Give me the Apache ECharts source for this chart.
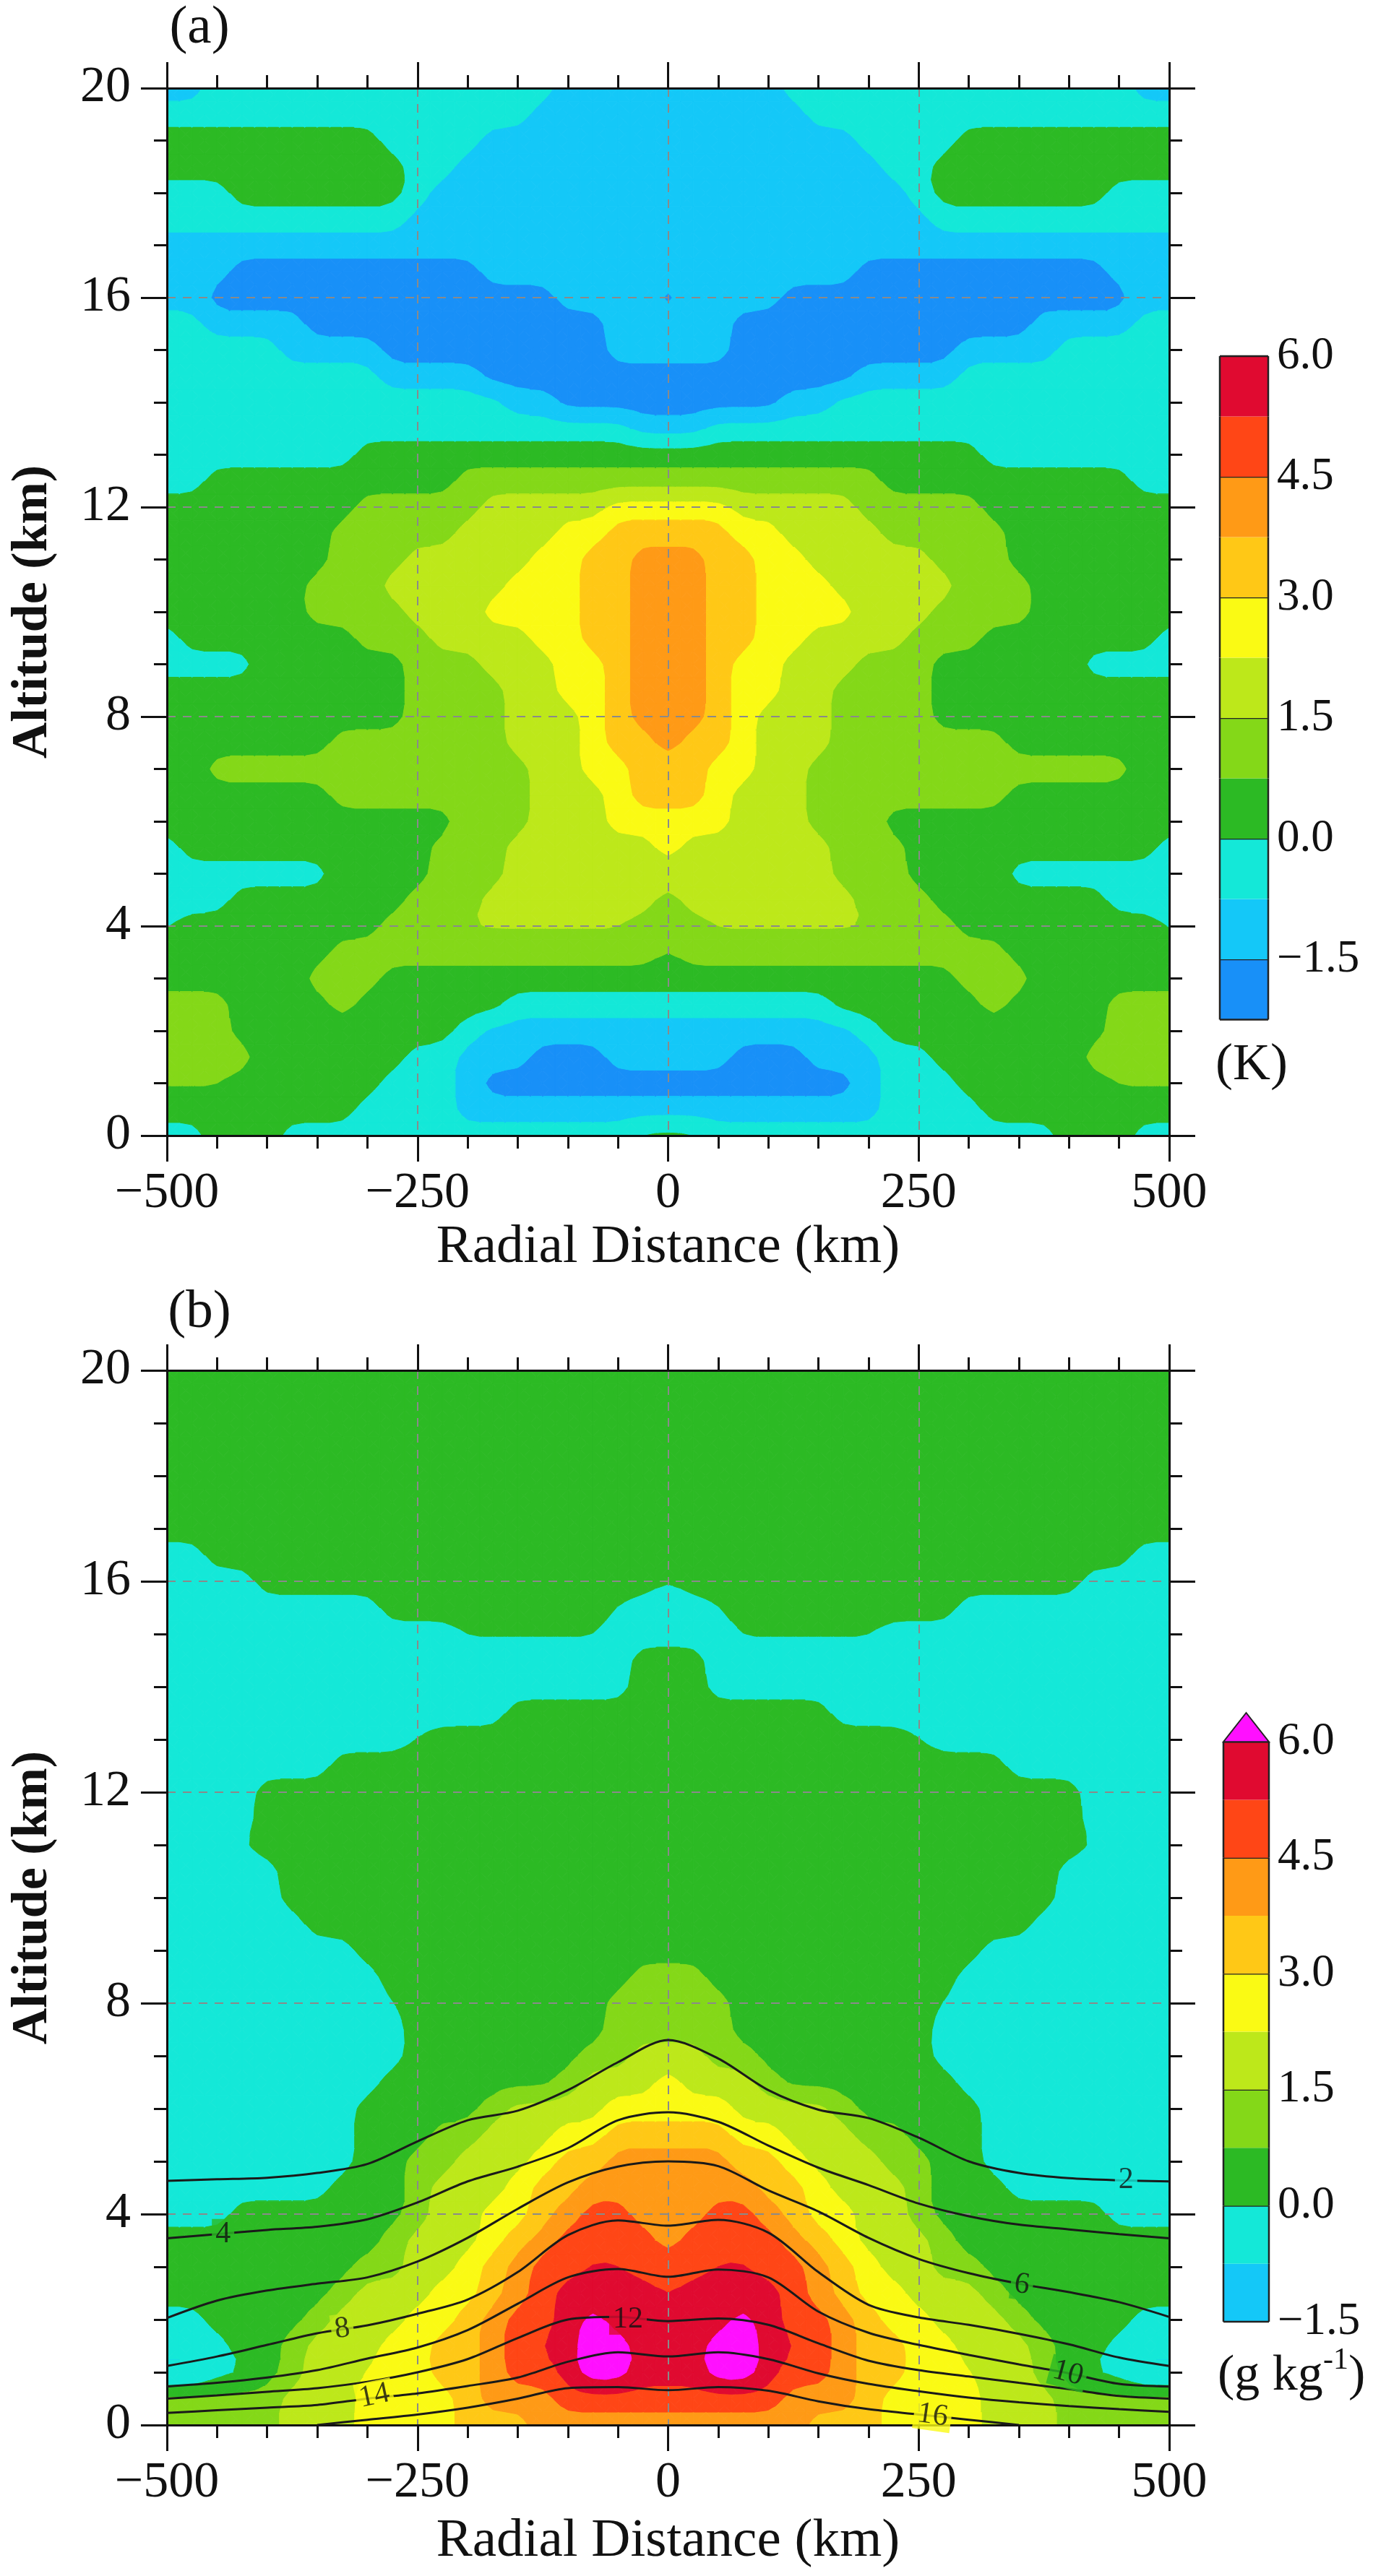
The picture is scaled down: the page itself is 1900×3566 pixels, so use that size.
<!DOCTYPE html>
<html>
<head>
<meta charset="utf-8">
<title>Radial-height cross sections</title>
<script src="https://cdn.jsdelivr.net/npm/echarts@6/dist/echarts.min.js"></script>
<style>
  html, body { margin: 0; padding: 0; background: #fff; }
  #chart { width: 1900px; height: 3566px; }
</style>
</head>
<body>
<div id="chart"></div>
<script>
// Both panels are mirror-symmetric about r = 0, so each field is stored for r >= 0 only.
const radialHalf = [0, 25, 50, 75, 100, 125, 150, 175, 200, 225, 250, 275, 300, 325, 350, 375, 400, 425, 450, 475, 500]
// row order of the two fields below (top of the plot first)
const altitudes = [20, 19.5, 19, 18.5, 18, 17.5, 17, 16.5, 16, 15.5, 15, 14.5, 14, 13.5, 13, 12.5, 12, 11.5, 11, 10.5,
  10, 9.5, 9, 8.5, 8, 7.5, 7, 6.5, 6, 5.5, 5, 4.5, 4, 3.5, 3, 2.5, 2, 1.5, 1, 0.5, 0]

// (a) temperature anomaly (K)
const tempAnom = [
  [-1.1,-1.1,-1.1,-1.1,-1.1,-0.4,-0.4,-0.4,-0.4,-0.4,-0.4,-0.4,-0.4,-0.4,-0.4,-0.4,-0.4,-0.4,-0.4,-1.1,-1.1],
  [-1.1,-1.1,-1.1,-1.1,-1.1,-1.1,-0.4,-0.4,-0.4,-0.4,-0.4,-0.4,-0.4,-0.4,-0.4,-0.4,-0.4,-0.4,-0.4,-0.4,-0.4],
  [-1.1,-1.1,-1.1,-1.1,-1.1,-1.1,-1.1,-1.1,-0.4,-0.4,-0.4,-0.4,0.4,0.4,0.4,0.4,0.4,0.4,0.4,0.4,0.4],
  [-1.1,-1.1,-1.1,-1.1,-1.1,-1.1,-1.1,-1.1,-1.1,-0.4,-0.4,0.4,0.4,0.4,0.4,0.4,0.4,0.4,0.4,0.4,0.4],
  [-1.1,-1.1,-1.1,-1.1,-1.1,-1.1,-1.1,-1.1,-1.1,-1.1,-0.4,0.4,0.4,0.4,0.4,0.4,0.4,0.4,-0.4,-0.4,-0.4],
  [-1.1,-1.1,-1.1,-1.1,-1.1,-1.1,-1.1,-1.1,-1.1,-1.1,-1.1,-0.4,-0.4,-0.4,-0.4,-0.4,-0.4,-0.4,-0.4,-0.4,-0.4],
  [-1.1,-1.1,-1.1,-1.1,-1.1,-1.1,-1.1,-1.1,-1.1,-1.1,-1.1,-1.1,-1.1,-1.1,-1.1,-1.1,-1.1,-1.1,-1.1,-1.1,-1.1],
  [-1.1,-1.1,-1.1,-1.1,-1.1,-1.1,-1.1,-1.1,-1.9,-1.9,-1.9,-1.9,-1.9,-1.9,-1.9,-1.9,-1.9,-1.9,-1.1,-1.1,-1.1],
  [-1.9,-1.1,-1.1,-1.1,-1.1,-1.9,-1.9,-1.9,-1.9,-1.9,-1.9,-1.9,-1.9,-1.9,-1.9,-1.9,-1.9,-1.9,-1.9,-1.1,-1.1],
  [-1.1,-1.1,-1.1,-1.9,-1.9,-1.9,-1.9,-1.9,-1.9,-1.9,-1.9,-1.9,-1.9,-1.9,-1.9,-1.1,-1.1,-1.1,-1.1,-0.4,-0.4],
  [-1.1,-1.1,-1.1,-1.9,-1.9,-1.9,-1.9,-1.9,-1.9,-1.9,-1.9,-1.9,-1.1,-1.1,-1.1,-1.1,-0.4,-0.4,-0.4,-0.4,-0.4],
  [-1.9,-1.9,-1.9,-1.9,-1.9,-1.9,-1.9,-1.9,-1.1,-1.1,-1.1,-1.1,-0.4,-0.4,-0.4,-0.4,-0.4,-0.4,-0.4,-0.4,-0.4],
  [-1.9,-1.9,-1.9,-1.9,-1.9,-1.1,-1.1,-0.4,-0.4,-0.4,-0.4,-0.4,-0.4,-0.4,-0.4,-0.4,-0.4,-0.4,-0.4,-0.4,-0.4],
  [-1.1,-1.1,-0.4,-0.4,-0.4,-0.4,-0.4,-0.4,-0.4,-0.4,-0.4,-0.4,-0.4,-0.4,-0.4,-0.4,-0.4,-0.4,-0.4,-0.4,-0.4],
  [0.4,0.4,0.4,0.4,0.4,0.4,0.4,0.4,0.4,0.4,0.4,0.4,0.4,-0.4,-0.4,-0.4,-0.4,-0.4,-0.4,-0.4,-0.4],
  [1.1,1.1,1.1,1.1,1.1,1.1,1.1,1.1,1.1,0.4,0.4,0.4,0.4,0.4,0.4,0.4,0.4,0.4,0.4,-0.4,-0.4],
  [2.6,2.6,2.6,1.9,1.9,1.9,1.9,1.9,1.1,1.1,1.1,1.1,1.1,0.4,0.4,0.4,0.4,0.4,0.4,0.4,0.4],
  [3.4,3.4,3.4,2.6,2.6,1.9,1.9,1.9,1.9,1.1,1.1,1.1,1.1,1.1,0.4,0.4,0.4,0.4,0.4,0.4,0.4],
  [4.1,4.1,3.4,3.4,2.6,2.6,1.9,1.9,1.9,1.9,1.9,1.1,1.1,1.1,0.4,0.4,0.4,0.4,0.4,0.4,0.4],
  [4.1,4.1,3.4,3.4,2.6,2.6,2.6,1.9,1.9,1.9,1.9,1.9,1.1,1.1,1.1,0.4,0.4,0.4,0.4,0.4,0.4],
  [4.1,4.1,3.4,3.4,2.6,2.6,2.6,2.6,1.9,1.9,1.9,1.1,1.1,1.1,1.1,0.4,0.4,0.4,0.4,0.4,0.4],
  [4.1,4.1,3.4,3.4,2.6,2.6,1.9,1.9,1.9,1.9,1.1,1.1,1.1,0.4,0.4,0.4,0.4,0.4,0.4,0.4,-0.4],
  [4.6,4.1,3.4,2.6,2.6,1.9,1.9,1.9,1.1,1.1,1.1,0.4,0.4,0.4,0.4,0.4,0.4,-0.4,-0.4,-0.4,-0.4],
  [4.1,4.1,3.4,2.6,2.6,1.9,1.9,1.1,1.1,1.1,1.1,0.4,0.4,0.4,0.4,0.4,0.4,0.4,0.4,0.4,0.4],
  [4.1,4.1,3.4,2.6,1.9,1.9,1.9,1.1,1.1,1.1,1.1,0.4,0.4,0.4,0.4,0.4,0.4,0.4,0.4,0.4,0.4],
  [4.1,3.4,3.4,2.6,1.9,1.9,1.9,1.1,1.1,1.1,1.1,1.1,1.1,1.1,0.4,0.4,0.4,0.4,0.4,0.4,0.4],
  [3.4,3.4,2.6,2.6,1.9,1.9,1.1,1.1,1.1,1.1,1.1,1.1,1.1,1.1,1.1,1.1,1.1,1.1,1.1,0.4,0.4],
  [3.4,3.4,2.6,1.9,1.9,1.9,1.1,1.1,1.1,1.1,1.1,1.1,1.1,1.1,0.4,0.4,0.4,0.4,0.4,0.4,0.4],
  [2.6,2.6,2.6,1.9,1.9,1.9,1.1,1.1,1.1,0.4,0.4,0.4,0.4,0.4,0.4,0.4,0.4,0.4,0.4,0.4,0.4],
  [2.6,1.9,1.9,1.9,1.9,1.9,1.9,1.1,1.1,1.1,0.4,0.4,0.4,0.4,0.4,0.4,0.4,0.4,0.4,0.4,-0.4],
  [1.9,1.9,1.9,1.9,1.9,1.9,1.9,1.1,1.1,1.1,0.4,0.4,0.4,0.4,-0.4,-0.4,-0.4,-0.4,-0.4,-0.4,-0.4],
  [1.1,1.9,1.9,1.9,1.9,1.9,1.9,1.9,1.1,1.1,1.1,0.4,0.4,0.4,0.4,0.4,0.4,0.4,-0.4,-0.4,-0.4],
  [1.1,1.1,1.55,1.55,1.55,1.55,1.55,1.55,1.55,1.55,1.1,1.1,0.4,0.4,0.4,0.4,0.4,0.4,0.4,0.4,-0.1],
  [0.65,1.1,1.1,1.1,1.1,1.1,1.1,1.1,1.1,1.1,1.1,1.1,1.1,1.1,0.4,0.4,0.4,0.4,0.4,0.4,0.4],
  [0.4,0.4,0.4,0.4,0.4,0.4,0.4,0.4,0.4,0.4,0.4,0.4,1.1,1.1,1.1,0.4,0.4,0.4,0.4,0.4,0.4],
  [-0.4,-0.4,-0.4,-0.4,-0.4,-0.4,-0.4,0.4,0.4,0.4,0.4,0.4,0.4,1.1,0.4,0.4,0.4,0.4,1.1,1.1,1.1],
  [-1.1,-1.1,-1.1,-1.1,-1.1,-1.1,-1.1,-1.1,-0.4,0.4,0.4,0.4,0.4,0.4,0.4,0.4,0.4,0.4,1.1,1.1,1.1],
  [-1.1,-1.1,-1.1,-1.9,-1.9,-1.9,-1.1,-1.1,-1.1,-0.4,-0.4,0.4,0.4,0.4,0.4,0.4,0.4,1.1,1.1,1.1,1.1],
  [-1.9,-1.9,-1.9,-1.9,-1.9,-1.9,-1.9,-1.9,-1.1,-0.4,-0.4,-0.4,0.4,0.4,0.4,0.4,0.4,0.4,0.8,0.8,0.8],
  [-1.1,-1.1,-1.1,-1.1,-1.1,-1.1,-1.1,-1.1,-1.1,-0.4,-0.4,-0.4,-0.4,0.4,0.4,0.4,0.4,0.4,0.4,0.4,0.4],
  [0.3,0.2,-0.4,-0.4,-0.4,-0.4,-0.4,-0.4,-0.4,-0.4,-0.4,-0.4,-0.4,-0.4,-0.4,-0.4,0.4,0.4,0.4,-0.4,-0.4]
]

// (b) moisture anomaly (g/kg)
const qvAnom = [
  [0.4,0.4,0.4,0.4,0.4,0.4,0.4,0.4,0.4,0.4,0.4,0.4,0.4,0.4,0.4,0.4,0.4,0.4,0.4,0.4,0.4],
  [0.4,0.4,0.4,0.4,0.4,0.4,0.4,0.4,0.4,0.4,0.4,0.4,0.4,0.4,0.4,0.4,0.4,0.4,0.4,0.4,0.4],
  [0.4,0.4,0.4,0.4,0.4,0.4,0.4,0.4,0.4,0.4,0.4,0.4,0.4,0.4,0.4,0.4,0.4,0.4,0.4,0.4,0.4],
  [0.4,0.4,0.4,0.4,0.4,0.4,0.4,0.4,0.4,0.4,0.4,0.4,0.4,0.4,0.4,0.4,0.4,0.4,0.4,0.4,0.4],
  [0.4,0.4,0.4,0.4,0.4,0.4,0.4,0.4,0.4,0.4,0.4,0.4,0.4,0.4,0.4,0.4,0.4,0.4,0.4,0.4,0.4],
  [0.4,0.4,0.4,0.4,0.4,0.4,0.4,0.4,0.4,0.4,0.4,0.4,0.4,0.4,0.4,0.4,0.4,0.4,0.4,0.4,0.4],
  [0.4,0.4,0.4,0.4,0.4,0.4,0.4,0.4,0.4,0.4,0.4,0.4,0.4,0.4,0.4,0.4,0.4,0.4,0.4,0.4,0.4],
  [0.4,0.4,0.4,0.4,0.4,0.4,0.4,0.4,0.4,0.4,0.4,0.4,0.4,0.4,0.4,0.4,0.4,0.4,0.4,-0.4,-0.4],
  [-0.05,0.4,0.4,0.4,0.4,0.4,0.4,0.4,0.4,0.4,0.4,0.4,0.4,0.4,0.4,0.4,0.4,-0.4,-0.4,-0.4,-0.4],
  [-0.4,-0.4,-0.05,0.4,0.4,0.4,0.4,0.4,0.4,0.4,0.4,0.4,-0.4,-0.4,-0.4,-0.4,-0.4,-0.4,-0.4,-0.4,-0.4],
  [-0.4,-0.4,-0.4,0.05,0.05,0.05,0.05,0.05,0.05,-0.4,-0.4,-0.4,-0.4,-0.4,-0.4,-0.4,-0.4,-0.4,-0.4,-0.4,-0.4],
  [0.4,0.4,-0.4,-0.4,-0.4,-0.4,-0.4,-0.4,-0.4,-0.4,-0.4,-0.4,-0.4,-0.4,-0.4,-0.4,-0.4,-0.4,-0.4,-0.4,-0.4],
  [0.4,0.4,-0.4,-0.4,-0.4,-0.4,-0.4,-0.4,-0.4,-0.4,-0.4,-0.4,-0.4,-0.4,-0.4,-0.4,-0.4,-0.4,-0.4,-0.4,-0.4],
  [0.4,0.4,0.4,0.4,0.4,0.4,0.4,-0.4,-0.4,-0.4,-0.4,-0.4,-0.4,-0.4,-0.4,-0.4,-0.4,-0.4,-0.4,-0.4,-0.4],
  [0.4,0.4,0.4,0.4,0.4,0.4,0.4,0.4,0.4,0.4,0.05,-0.4,-0.4,-0.4,-0.4,-0.4,-0.4,-0.4,-0.4,-0.4,-0.4],
  [0.4,0.4,0.4,0.4,0.4,0.4,0.4,0.4,0.4,0.4,0.4,0.4,0.4,0.4,-0.4,-0.4,-0.4,-0.4,-0.4,-0.4,-0.4],
  [0.4,0.4,0.4,0.4,0.4,0.4,0.4,0.4,0.4,0.4,0.4,0.4,0.4,0.4,0.4,0.4,0.4,-0.4,-0.4,-0.4,-0.4],
  [0.4,0.4,0.4,0.4,0.4,0.4,0.4,0.4,0.4,0.4,0.4,0.4,0.4,0.4,0.4,0.4,0.4,-0.4,-0.4,-0.4,-0.4],
  [0.4,0.4,0.4,0.4,0.4,0.4,0.4,0.4,0.4,0.4,0.4,0.4,0.4,0.4,0.4,0.4,0.4,-0.05,-0.4,-0.4,-0.4],
  [0.4,0.4,0.4,0.4,0.4,0.4,0.4,0.4,0.4,0.4,0.4,0.4,0.4,0.4,0.4,0.4,-0.4,-0.4,-0.4,-0.4,-0.4],
  [0.4,0.4,0.4,0.4,0.4,0.4,0.4,0.4,0.4,0.4,0.4,0.4,0.4,0.4,0.4,0.4,-0.4,-0.4,-0.4,-0.4,-0.4],
  [0.4,0.4,0.4,0.4,0.4,0.4,0.4,0.4,0.4,0.4,0.4,0.4,0.4,0.4,0.4,-0.4,-0.4,-0.4,-0.4,-0.4,-0.4],
  [0.4,0.4,0.4,0.4,0.4,0.4,0.4,0.4,0.4,0.4,0.4,0.4,0.4,-0.4,-0.4,-0.4,-0.4,-0.4,-0.4,-0.4,-0.4],
  [1.1,1.1,0.4,0.4,0.4,0.4,0.4,0.4,0.4,0.4,0.4,0.4,-0.4,-0.4,-0.4,-0.4,-0.4,-0.4,-0.4,-0.4,-0.4],
  [1.1,1.1,1.1,0.4,0.4,0.4,0.4,0.4,0.4,0.4,0.4,-0.05,-0.4,-0.4,-0.4,-0.4,-0.4,-0.4,-0.4,-0.4,-0.4],
  [1.1,1.1,1.1,0.4,0.4,0.4,0.4,0.4,0.4,0.4,0.4,-0.4,-0.4,-0.4,-0.4,-0.4,-0.4,-0.4,-0.4,-0.4,-0.4],
  [1.9,1.9,1.1,1.1,0.4,0.4,0.4,0.4,0.4,0.4,0.4,-0.4,-0.4,-0.4,-0.4,-0.4,-0.4,-0.4,-0.4,-0.4,-0.4],
  [2.6,1.9,1.9,1.9,1.1,0.4,0.4,0.4,0.4,0.4,0.4,0.4,-0.4,-0.4,-0.4,-0.4,-0.4,-0.4,-0.4,-0.4,-0.4],
  [2.6,2.6,2.6,1.9,1.9,1.9,1.9,1.1,0.4,0.4,0.4,0.4,0.4,-0.4,-0.4,-0.4,-0.4,-0.4,-0.4,-0.4,-0.4],
  [3.4,3.4,3.4,2.6,2.6,1.9,1.9,1.9,1.1,1.1,0.4,0.4,0.4,-0.4,-0.4,-0.4,-0.4,-0.4,-0.4,-0.4,-0.4],
  [4.1,4.1,4.1,3.4,3.4,2.6,1.9,1.9,1.9,1.1,1.1,0.4,0.4,-0.4,-0.4,-0.4,-0.4,-0.4,-0.4,-0.4,-0.4],
  [4.1,4.1,4.1,4.1,3.4,3.4,2.6,1.9,1.9,1.9,1.1,0.4,0.4,0.4,-0.4,-0.4,-0.4,-0.4,-0.4,-0.4,-0.4],
  [4.1,4.1,4.9,4.9,4.1,3.4,2.6,2.6,1.9,1.9,1.1,0.4,0.4,0.4,0.4,0.4,0.4,0.4,-0.4,-0.4,-0.4],
  [4.1,4.9,4.9,4.9,4.9,4.1,3.4,2.6,1.9,1.9,1.9,1.1,0.4,0.4,0.4,0.4,0.4,0.4,0.4,0.4,0.4],
  [4.9,4.9,5.3,5.35,4.9,4.9,4.1,3.4,2.6,1.9,1.9,1.1,1.1,0.4,0.4,0.4,0.4,0.4,0.4,0.4,0.4],
  [5.15,5.6,5.6,5.6,5.6,4.9,4.1,3.4,2.6,2.6,1.9,1.9,1.9,1.1,0.4,0.4,0.4,0.4,0.4,0.4,0.4],
  [5.6,5.6,5.6,6.3,5.6,4.9,4.9,4.1,3.4,2.6,2.6,1.9,1.9,1.9,1.1,0.4,0.4,0.4,0.4,-0.4,-0.4],
  [5.6,5.6,6.4,6.6,5.6,5.3,4.9,4.1,3.4,3.4,2.6,2.6,1.9,1.9,1.9,1.1,0.4,0.4,-0.4,-0.4,-0.4],
  [5.6,5.6,6.5,6.6,5.6,4.9,4.9,4.1,3.4,3.4,2.6,2.6,2.3,1.9,1.9,1.1,0.3,-0.1,-0.4,-1.1,-1.1],
  [4.9,4.9,4.9,4.9,4.9,4.1,4.1,4.1,3.4,2.6,2.6,2.6,2.6,1.9,1.9,1.9,1.1,1.1,1.1,1.1,1.1],
  [4.1,4.1,4.1,4.1,4.1,4.1,3.4,3.4,3.4,2.6,2.6,2.6,2.6,1.9,1.9,1.9,1.1,1.1,1.1,1.1,1.1]
]

// shading thresholds and colours shared by both panels
const levels = [-1.5, -0.75, 0, 0.75, 1.5, 2.25, 3, 3.75, 4.5, 5.25, 6]
const bandColors = ['#1890f8', '#14c8f8', '#14e8d8', '#2cba24', '#84d818', '#bde81a', '#fafa14', '#ffc816', '#ff9a16', '#ff4616', '#e00a30', '#ff10ff']
const colorbarA = [-2.25, -1.5, -0.75, 0, 0.75, 1.5, 2.25, 3, 3.75, 4.5, 5.25, 6]
const colorbarB = [-1.5, -0.75, 0, 0.75, 1.5, 2.25, 3, 3.75, 4.5, 5.25, 6]

// moisture contour lines of panel (b), altitude (km) at each radial distance
const lineR = [-500, -450, -400, -350, -300, -250, -200, -150, -100, -50, 0, 50, 100, 150, 200, 250, 300, 350, 400, 450, 500]
const q2 = [4.63, 4.66, 4.69, 4.78, 4.95, 5.38, 5.78, 5.96, 6.35, 6.88, 7.3, 6.95, 6.35, 5.98, 5.82, 5.45, 5.0, 4.78, 4.68, 4.64, 4.62]
const q4 = [3.54, 3.62, 3.7, 3.76, 3.9, 4.22, 4.62, 4.9, 5.25, 5.78, 5.93, 5.75, 5.3, 4.88, 4.55, 4.2, 3.96, 3.8, 3.71, 3.62, 3.54]
const q6 = [2.03, 2.36, 2.55, 2.68, 2.8, 3.1, 3.55, 4.1, 4.6, 4.9, 5.0, 4.91, 4.45, 4.05, 3.55, 3.15, 2.88, 2.68, 2.52, 2.33, 2.05]
const q8 = [1.12, 1.3, 1.52, 1.74, 1.89, 2.11, 2.38, 2.9, 3.6, 3.88, 3.78, 3.89, 3.65, 2.9, 2.28, 2.04, 1.9, 1.73, 1.53, 1.28, 1.12]
const q10 = [0.73, 0.8, 0.9, 1.04, 1.26, 1.47, 1.8, 2.3, 2.8, 2.96, 2.81, 2.95, 2.8, 2.15, 1.75, 1.52, 1.33, 1.15, 0.98, 0.78, 0.73]
const q12 = [0.5, 0.56, 0.63, 0.7, 0.82, 1.0, 1.25, 1.65, 2.0, 2.05, 1.97, 2.02, 1.9, 1.55, 1.22, 1.04, 0.92, 0.8, 0.68, 0.55, 0.5]
const q14 = [0.23, 0.28, 0.33, 0.38, 0.5, 0.6, 0.74, 0.9, 1.2, 1.38, 1.3, 1.38, 1.25, 0.98, 0.78, 0.64, 0.52, 0.43, 0.36, 0.3, 0.25]
const q16 = [null, null, null, 0, 0.1, 0.2, 0.33, 0.5, 0.7, 0.72, 0.66, 0.72, 0.65, 0.45, 0.3, 0.2, 0.1, 0, null, null, null]
const qLines = [q2, q4, q6, q8, q10, q12, q14, q16]

// where each contour value is written on its line
const qLabelText = ['2', '4', '6', '8', '10', '12', '14', '16']
const qLabelR = [457, -444, 353, -325, 399, -40, -293, 264]
const qLabelZ = [4.64, 3.62, 2.66, 1.82, 0.98, 2.0, 0.55, 0.18]
const qLabelRotate = [0, 0, -8, 8, -15, 0, 12, -8]

const SERIF = '"Liberation Serif", "Times New Roman", serif'
const INK = '#111'

function signed(v) {
  return v < 0 ? '\u2212' + Math.abs(v) : String(v)
}

// unfold the stored half profiles into a full -500..500 grid, altitude ascending
function buildField(rows) {
  const rs = radialHalf.slice(1).reverse().map(v => -v).concat(radialHalf)
  const zs = altitudes.slice().reverse()
  const vals = rows.slice().reverse().map(row => row.slice(1).reverse().concat(row))
  return { rs, zs, vals }
}

// halve the grid spacing and run one [1,2,1] pass so band edges come out rounded, not stepped
function refine(field) {
  const half = list => {
    const out = []
    list.forEach((v, i) => {
      out.push(v)
      if (i < list.length - 1) out.push((v + list[i + 1]) / 2)
    })
    return out
  }
  const rs = half(field.rs)
  const zs = half(field.zs)
  const v = field.vals
  const fine = zs.map((z, j) => rs.map((r, i) => {
    const j0 = Math.floor(j / 2), j1 = Math.ceil(j / 2)
    const i0 = Math.floor(i / 2), i1 = Math.ceil(i / 2)
    return (v[j0][i0] + v[j0][i1] + v[j1][i0] + v[j1][i1]) / 4
  }))
  const w = [1, 2, 1]
  const nz = zs.length
  const nr = rs.length
  const vals = fine.map((row, j) => row.map((_, i) => {
    let s = 0
    let ws = 0
    for (let dj = -1; dj <= 1; dj++) {
      for (let di = -1; di <= 1; di++) {
        const jj = Math.min(nz - 1, Math.max(0, j + dj))
        const ii = Math.min(nr - 1, Math.max(0, i + di))
        const k = w[dj + 1] * w[di + 1]
        s += k * fine[jj][ii]
        ws += k
      }
    }
    return s / ws
  }))
  return { rs, zs, vals }
}

function bandOf(v) {
  let b = 0
  while (b < levels.length && v >= levels[b]) b++
  return b
}

// keep the part of a polygon where the (linear) value is above / below c
function clipHalf(poly, c, above) {
  const out = []
  for (let i = 0; i < poly.length; i++) {
    const a = poly[i]
    const b = poly[(i + 1) % poly.length]
    const ina = above ? a[2] >= c : a[2] <= c
    const inb = above ? b[2] >= c : b[2] <= c
    if (ina) out.push(a)
    if (ina !== inb) {
      const t = (c - a[2]) / (b[2] - a[2])
      out.push([a[0] + t * (b[0] - a[0]), a[1] + t * (b[1] - a[1]), c])
    }
  }
  return out
}

function trianglePieces(tri, out) {
  const vs = tri.map(p => p[2])
  const b0 = bandOf(Math.min(...vs))
  const b1 = bandOf(Math.max(...vs))
  for (let b = b0; b <= b1; b++) {
    let poly = tri
    if (b > 0) poly = clipHalf(poly, levels[b - 1], true)
    if (poly.length > 2 && b < levels.length) poly = clipHalf(poly, levels[b], false)
    if (poly.length > 2) out.push({ band: b, pts: poly.map(p => [p[0], p[1]]) })
  }
}

// filled contour pieces, one entry per grid cell (split into four triangles)
function contourCells(field) {
  const { rs, zs, vals } = field
  const cells = []
  for (let j = 0; j < zs.length - 1; j++) {
    for (let i = 0; i < rs.length - 1; i++) {
      const a = [rs[i], zs[j], vals[j][i]]
      const b = [rs[i + 1], zs[j], vals[j][i + 1]]
      const c = [rs[i + 1], zs[j + 1], vals[j + 1][i + 1]]
      const d = [rs[i], zs[j + 1], vals[j + 1][i]]
      const m = [(a[0] + b[0]) / 2, (a[1] + d[1]) / 2, (a[2] + b[2] + c[2] + d[2]) / 4]
      const pieces = []
      ;[[a, b, m], [b, c, m], [c, d, m], [d, a, m]].forEach(t => trianglePieces(t, pieces))
      cells.push({ r: rs[i], z: zs[j], pieces })
    }
  }
  return cells
}

function nearestIndex(list, v) {
  let best = 0
  list.forEach((x, i) => { if (Math.abs(x - v) < Math.abs(list[best] - v)) best = i })
  return best
}

function colorAt(field, r, z) {
  const i = nearestIndex(field.rs, r)
  const j = nearestIndex(field.zs, z)
  return bandColors[bandOf(field.vals[j][i])]
}

const fieldA = refine(buildField(tempAnom))
const fieldB = refine(buildField(qvAnom))
const cellsA = contourCells(fieldA)
const cellsB = contourCells(fieldB)

function fillSeries(cells, idx) {
  return {
    type: 'custom',
    coordinateSystem: 'cartesian2d',
    xAxisIndex: idx,
    yAxisIndex: idx,
    data: cells.map(c => [c.r, c.z]),
    clip: true,
    silent: true,
    progressive: 0,
    z: 1,
    renderItem: (params, api) => {
      const cell = cells[params.dataIndex]
      return {
        type: 'group',
        children: cell.pieces.map(pc => {
          const col = bandColors[pc.band]
          return {
            type: 'polygon',
            shape: { points: pc.pts.map(p => api.coord(p)) },
            style: { fill: col, stroke: col, lineWidth: 1 }
          }
        })
      }
    }
  }
}

function colorbarSeries(bounds, firstBand, idx, arrow) {
  const boxes = []
  for (let k = 0; k < bounds.length - 1; k++) {
    boxes.push([0, bounds[k], bounds[k + 1], firstBand + k])
  }
  if (arrow) boxes.push([0, bounds[bounds.length - 1], bounds[bounds.length - 1] + 0.375, levels.length])
  return {
    type: 'custom',
    coordinateSystem: 'cartesian2d',
    xAxisIndex: idx,
    yAxisIndex: idx,
    data: boxes,
    silent: true,
    progressive: 0,
    z: 3,
    renderItem: (params, api) => {
      const lo = api.value(1)
      const hi = api.value(2)
      const band = api.value(3)
      const tl = api.coord([0, hi])
      const br = api.coord([1, lo])
      const line = { stroke: '#222', lineWidth: 2.5 }
      if (band === levels.length) {
        return {
          type: 'polygon',
          shape: { points: [[tl[0], br[1]], [br[0], br[1]], [(tl[0] + br[0]) / 2, tl[1]]] },
          style: { fill: bandColors[band], stroke: '#222', lineWidth: 2 }
        }
      }
      const children = [
        { type: 'rect', shape: { x: tl[0], y: tl[1], width: br[0] - tl[0], height: br[1] - tl[1] }, style: { fill: bandColors[band] } },
        { type: 'line', shape: { x1: tl[0], y1: tl[1], x2: tl[0], y2: br[1] }, style: line },
        { type: 'line', shape: { x1: br[0], y1: tl[1], x2: br[0], y2: br[1] }, style: line }
      ]
      const k = hi / 1.5
      if (Math.abs(k - Math.round(k)) < 1e-6) {
        children.push({ type: 'line', shape: { x1: tl[0], y1: tl[1], x2: br[0], y2: tl[1] }, style: line })
      }
      if (params.dataIndex === 0) {
        children.push({ type: 'line', shape: { x1: tl[0], y1: br[1], x2: br[0], y2: br[1] }, style: line })
      }
      return { type: 'group', children }
    }
  }
}

const axisLine = { show: true, onZero: false, lineStyle: { color: INK, width: 3 } }
const tick = { show: true, inside: false, length: 36, lineStyle: { color: INK, width: 3 } }
const gridDash = { show: true, lineStyle: { color: '#8a8a8a', width: 2, type: [12, 10] } }

function radialAxis(gridIndex, position, main, nameGap) {
  return {
    type: 'value', gridIndex, position, min: -500, max: 500, interval: 250, z: 5,
    axisLine, axisTick: tick,
    minorTick: { show: true, splitNumber: 5, length: 18, lineStyle: { color: INK, width: 3 } },
    splitLine: main ? gridDash : { show: false },
    axisLabel: { show: main, margin: 46, fontSize: 70, fontFamily: SERIF, color: INK, formatter: signed },
    name: main ? 'Radial Distance (km)' : '',
    nameLocation: 'middle', nameGap,
    nameTextStyle: { fontSize: 75, fontFamily: SERIF, color: INK }
  }
}

function heightAxis(gridIndex, position, main) {
  return {
    type: 'value', gridIndex, position, min: 0, max: 20, interval: 4, z: 5,
    axisLine, axisTick: tick,
    minorTick: { show: true, splitNumber: 4, length: 18, lineStyle: { color: INK, width: 3 } },
    splitLine: main ? gridDash : { show: false },
    axisLabel: { show: main, margin: 50, fontSize: 70, fontFamily: SERIF, color: INK },
    name: main ? 'Altitude (km)' : '',
    nameLocation: 'middle', nameGap: 150, nameRotate: 90,
    nameTextStyle: { fontSize: 70, fontWeight: 'bold', fontFamily: SERIF, color: INK }
  }
}

function barLabel(v) {
  const k = v / 1.5
  if (Math.abs(k - Math.round(k)) > 1e-6 || v < -1.5 - 1e-6 || v > 6 + 1e-6) return ''
  return (v < 0 ? '\u2212' : '') + Math.abs(v).toFixed(1)
}

function colorbarY(gridIndex, min, max) {
  return {
    type: 'value', gridIndex, position: 'right', min, max, interval: 1.5,
    axisLine: { show: false }, axisTick: { show: false }, splitLine: { show: false },
    axisLabel: { margin: 12, fontSize: 63, fontFamily: SERIF, color: INK, formatter: barLabel }
  }
}

function colorbarX(gridIndex) {
  return { type: 'value', gridIndex, min: 0, max: 1, show: false }
}

const lineSeries = qLines.map(q => ({
  type: 'line',
  xAxisIndex: 2,
  yAxisIndex: 2,
  data: lineR.map((r, i) => [r, q[i]]).filter(p => p[1] !== null),
  symbol: 'none',
  smooth: 0.3,
  silent: true,
  z: 10,
  lineStyle: { color: '#1a1a1a', width: 3 }
}))

const labelSeries = {
  type: 'scatter',
  xAxisIndex: 2,
  yAxisIndex: 2,
  symbolSize: 1,
  silent: true,
  z: 11,
  itemStyle: { color: 'rgba(0,0,0,0)' },
  data: qLabelText.map((t, i) => ({
    value: [qLabelR[i], qLabelZ[i]],
    label: {
      show: true, position: 'inside', formatter: t, rotate: qLabelRotate[i],
      fontSize: 42, fontFamily: SERIF, color: INK,
      backgroundColor: colorAt(fieldB, qLabelR[i], qLabelZ[i]), padding: [0, 5]
    }
  }))
}

const chart = echarts.init(document.getElementById('chart'), null, { renderer: 'canvas', width: 1900, height: 3566 })

chart.setOption({
  backgroundColor: '#fff',
  animation: false,
  textStyle: { fontFamily: SERIF },
  grid: [
    { left: 231, top: 122, width: 1387, height: 1450 },
    { left: 231, top: 1897, width: 1387, height: 1460 },
    { left: 1688, top: 493, width: 67, height: 1002 },
    { left: 1693, top: 2371, width: 63, height: 843 }
  ],
  xAxis: [
    radialAxis(0, 'bottom', true, 118),
    radialAxis(0, 'top', false, 0),
    radialAxis(1, 'bottom', true, 124),
    radialAxis(1, 'top', false, 0),
    colorbarX(2),
    colorbarX(3)
  ],
  yAxis: [
    heightAxis(0, 'left', true),
    heightAxis(0, 'right', false),
    heightAxis(1, 'left', true),
    heightAxis(1, 'right', false),
    colorbarY(2, -3, 6),
    colorbarY(3, -1.5, 6.375)
  ],
  graphic: [
    { type: 'text', x: 276, y: 39, style: { text: '(a)', fontSize: 75, fontFamily: SERIF, fill: INK, align: 'center', verticalAlign: 'middle' } },
    { type: 'text', x: 276, y: 1817, style: { text: '(b)', fontSize: 75, fontFamily: SERIF, fill: INK, align: 'center', verticalAlign: 'middle' } },
    { type: 'text', x: 1732, y: 1475, style: { text: '(K)', fontSize: 72, fontFamily: SERIF, fill: INK, align: 'center', verticalAlign: 'middle' } },
    { type: 'text', x: 1685, y: 3290, style: { text: '(g kg', fontSize: 70, fontFamily: SERIF, fill: INK, align: 'left', verticalAlign: 'middle' } },
    { type: 'text', x: 1831, y: 3268, style: { text: '-1', fontSize: 42, fontFamily: SERIF, fill: INK, align: 'left', verticalAlign: 'middle' } },
    { type: 'text', x: 1866, y: 3290, style: { text: ')', fontSize: 70, fontFamily: SERIF, fill: INK, align: 'left', verticalAlign: 'middle' } }
  ],
  series: [
    fillSeries(cellsA, 0),
    fillSeries(cellsB, 2),
    colorbarSeries(colorbarA, 0, 4, false),
    colorbarSeries(colorbarB, 1, 5, true),
    ...lineSeries,
    labelSeries
  ]
})
</script>
</body>
</html>
